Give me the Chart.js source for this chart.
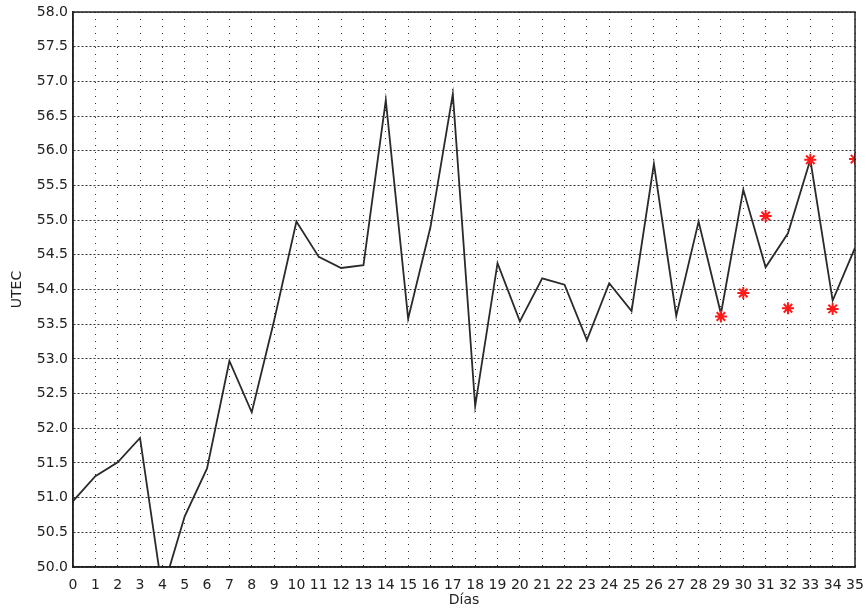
<!DOCTYPE html>
<html>
<head>
<meta charset="utf-8">
<script src="https://cdn.jsdelivr.net/npm/chart.js@4/dist/chart.umd.min.js"></script>
<style>
  html, body { margin: 0; padding: 0; background: #ffffff; }
  #wrap { width: 866px; height: 614px; }
</style>
</head>
<body>
<div id="wrap"><canvas id="c" width="866" height="614"></canvas></div>
<script>
// Categories (days)
const days = ['0','1','2','3','4','5','6','7','8','9','10','11','12','13','14','15','16','17',
              '18','19','20','21','22','23','24','25','26','27','28','29','30','31','32','33','34','35'];
// UTEC series (black line)
const utec = [50.95, 51.31, 51.51, 51.86, 49.65, 50.73, 51.42, 52.97, 52.23, 53.55,
              54.98, 54.47, 54.31, 54.35, 56.73, 53.58, 54.90, 56.82, 52.32, 54.38,
              53.54, 54.16, 54.07, 53.27, 54.09, 53.69, 55.81, 53.62, 54.98, 53.65,
              55.44, 54.32, 54.81, 55.87, 53.84, 54.60];
// Red star markers
const marks = [null, null, null, null, null, null, null, null, null, null,
               null, null, null, null, null, null, null, null, null, null,
               null, null, null, null, null, null, null, null, null, 53.61,
               53.95, 55.06, 53.73, 55.87, 53.72, 55.88];
// Y tick labels
const yTickLabels = ['50.0','50.5','51.0','51.5','52.0','52.5','53.0','53.5','54.0',
                     '54.5','55.0','55.5','56.0','56.5','57.0','57.5','58.0'];
const yMin = 50, yMax = 58, yStep = 0.5;

const FONT = 'DejaVu Sans';

const boxPlugin = {
  id: 'box',
  afterDraw(chart) {
    const {ctx, chartArea: a} = chart;
    ctx.save();
    ctx.strokeStyle = '#222';
    ctx.lineWidth = 1.5;
    ctx.strokeRect(a.left, a.top, a.right - a.left, a.bottom - a.top);
    ctx.restore();
  }
};

new Chart(document.getElementById('c'), {
  type: 'line',
  data: {
    labels: days,
    datasets: [
      {
        label: 'UTEC',
        data: utec,
        borderColor: '#2a2a2a',
        borderWidth: 1.8,
        pointRadius: 0,
        tension: 0,
        fill: false,
        clip: 0,
        order: 2
      },
      {
        label: 'marks',
        data: marks,
        showLine: false,
        pointStyle: 'star',
        pointRadius: 6,
        pointBorderColor: '#ff1a1a',
        pointBorderWidth: 2,
        pointBackgroundColor: '#ff1a1a',
        clip: 0,
        order: 1
      }
    ]
  },
  options: {
    responsive: false,
    animation: false,
    devicePixelRatio: 1,
    layout: { padding: { left: 0, right: 11, top: 12, bottom: 0 } },
    plugins: {
      legend: { display: false },
      tooltip: { enabled: false }
    },
    scales: {
      x: {
        type: 'category',
        offset: false,
        grid: {
          color: '#333333',
          lineWidth: 1,
          drawTicks: false
        },
        border: { display: true, color: '#222', width: 1.5, dash: [1, 6] },
        ticks: {
          autoSkip: false,
          maxRotation: 0,
          minRotation: 0,
          padding: 10,
          color: '#222',
          font: { family: FONT, size: 14 }
        },
        title: {
          display: true,
          text: 'Días',
          color: '#222',
          font: { family: FONT, size: 14 },
          padding: { top: 0, bottom: 5 }
        },
        afterFit(scale) {
          scale.height = 47;
          scale.paddingLeft = 0;
          scale.paddingRight = 0;
        }
      },
      y: {
        min: yMin,
        max: yMax,
        grid: {
          color: '#333333',
          lineWidth: 1,
          drawTicks: false
        },
        border: { display: true, color: '#222', width: 1.5, dash: [2, 2] },
        ticks: {
          stepSize: yStep,
          padding: 5,
          color: '#222',
          font: { family: FONT, size: 14 },
          callback: function(value) {
            const i = Math.round((value - yMin) / yStep);
            return yTickLabels[i];
          }
        },
        title: {
          display: true,
          text: 'UTEC',
          color: '#222',
          font: { family: FONT, size: 14 },
          padding: { top: 9, bottom: 0 }
        },
        afterFit(scale) {
          scale.width = 73;
          scale.paddingTop = 0;
          scale.paddingBottom = 0;
        }
      }
    }
  },
  plugins: [boxPlugin]
});
</script>
</body>
</html>
